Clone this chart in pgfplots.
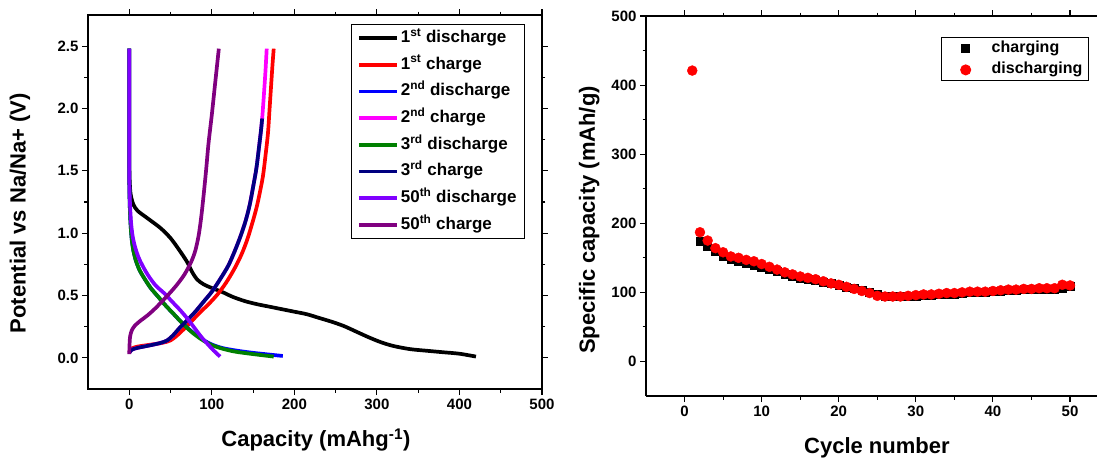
\documentclass[border=0pt]{standalone}
\usepackage{fontspec}
\setmainfont{Liberation Sans}
\usepackage{pgfplots}
\pgfplotsset{compat=1.18}
\definecolor{cBlue}{RGB}{0,0,255}
\definecolor{cMag}{RGB}{255,0,255}
\definecolor{cGreen}{RGB}{0,128,0}
\definecolor{cNavy}{RGB}{0,0,128}
\definecolor{cViolet}{RGB}{128,0,255}
\definecolor{cPurple}{RGB}{128,0,128}
\pgfplotsset{
 common/.style={
  scale only axis,
  axis line style={line width=1.2pt},
  tick style={line width=1.1pt, black},
  tick align=outside,
  major tick length=6pt,
  minor tick length=3.5pt,
  /pgf/number format/assume math mode=true,
  tick label style={font=\fontsize{15}{15}\selectfont\bfseries},
 },
 curve/.style={no marks, line width=3.7pt, smooth, tension=0.5, line join=round},
}
\begin{document}
\begin{tikzpicture}[x=1pt,y=1pt]
\path[use as bounding box] (0,0) rectangle (1097,459);
% ---------------- left panel
\begin{axis}[common,
  at={(88pt,70pt)}, anchor=south west, width=454pt, height=374pt,
  xmin=-50, xmax=500, ymin=-0.25, ymax=2.75,
  xtick={0,100,...,500}, minor x tick num=1,
  ytick={0,0.5,...,2.5}, minor y tick num=1,
  yticklabel style={/pgf/number format/.cd,fixed,fixed zerofill,precision=1},
  xlabel={Capacity (mAhg\textsuperscript{-1})},
  ylabel={Potential vs Na/Na+ (V)},
  xlabel style={at={(axis description cs:0.502,-0.136)},anchor=center,font=\fontsize{22}{22}\selectfont\bfseries},
  ylabel style={at={(axis description cs:-0.15,0.47)},anchor=center,font=\fontsize{22}{22}\selectfont\bfseries},
  legend style={at={(axis description cs:0.9626,0.976)}, anchor=north east,
    draw=black, line width=1pt, font=\fontsize{17}{17}\selectfont\bfseries,
    nodes={inner sep=2pt, text height=13pt, text depth=4pt}, row sep=5.7pt,
    inner xsep=6pt, inner ysep=3pt},
  legend cell align=left,
  legend image code/.code={\draw[#1] (0pt,0pt) -- (38pt,0pt);},
]
\addplot[curve, black] coordinates {(0,2.48)(0,1.6)(0.8,1.38)(2,1.30)(5,1.23)(10,1.18)(22,1.12)(38,1.04)(50,0.96)(60,0.87)(70,0.77)(76,0.69)(82,0.63)(90,0.59)(100,0.56)(112,0.53)(125,0.49)(140,0.455)(155,0.43)(170,0.41)(185,0.39)(200,0.37)(215,0.35)(230,0.32)(245,0.29)(260,0.255)(275,0.21)(290,0.165)(305,0.125)(320,0.095)(340,0.07)(360,0.057)(380,0.045)(400,0.033)(420,0.01)};
\addlegendentry{1\textsuperscript{st} discharge}
\addplot[curve, red] coordinates {(0,0.05)(3,0.075)(10,0.09)(25,0.105)(40,0.12)(50,0.14)(58,0.18)(66,0.23)(75,0.29)(85,0.36)(96,0.43)(107,0.51)(117,0.6)(127,0.71)(136,0.83)(143,0.95)(149,1.08)(154,1.2)(158,1.32)(162,1.46)(165,1.62)(168,1.8)(170,2.0)(172,2.2)(173.5,2.35)(175,2.48)};
\addlegendentry{1\textsuperscript{st} charge}
\addplot[curve, cBlue] coordinates {(0,2.48)(0,1.5)(0.5,1.25)(1.5,1.08)(3,0.95)(5,0.86)(8,0.78)(12,0.71)(18,0.64)(26,0.56)(35,0.49)(44,0.42)(54,0.35)(64,0.28)(75,0.215)(87,0.155)(99,0.11)(112,0.08)(128,0.06)(150,0.04)(186,0.015)};
\addlegendentry{2\textsuperscript{nd} discharge}
\addplot[curve, cMag] coordinates {(0,0.04)(3,0.065)(10,0.08)(25,0.1)(38,0.12)(46,0.14)(53,0.18)(61,0.24)(70,0.3)(80,0.37)(90,0.45)(100,0.53)(110,0.63)(120,0.74)(128,0.86)(135,0.98)(141,1.1)(146,1.23)(150,1.37)(154,1.52)(157,1.68)(159.5,1.82)(161,1.92)(163,2.1)(165,2.3)(166.5,2.48)};
\addlegendentry{2\textsuperscript{nd} charge}
\addplot[curve, cGreen] coordinates {(0,2.48)(0,1.5)(0.5,1.25)(1.5,1.08)(3,0.95)(5,0.86)(8,0.78)(12,0.71)(18,0.64)(26,0.56)(35,0.49)(44,0.42)(54,0.35)(64,0.28)(75,0.21)(87,0.15)(99,0.105)(112,0.075)(128,0.05)(150,0.03)(175,0.01)};
\addlegendentry{3\textsuperscript{rd} discharge}
\addplot[curve, cNavy] coordinates {(0,0.04)(3,0.065)(10,0.08)(25,0.1)(38,0.12)(46,0.14)(53,0.18)(61,0.24)(70,0.3)(80,0.37)(90,0.45)(100,0.53)(110,0.63)(120,0.74)(128,0.86)(135,0.98)(141,1.1)(146,1.23)(150,1.37)(154,1.52)(157,1.68)(159.5,1.82)(161,1.92)};
\addlegendentry{3\textsuperscript{rd} charge}
\addplot[curve, cViolet] coordinates {(0,2.48)(0,1.5)(0.6,1.28)(2,1.1)(4,0.98)(7,0.89)(11,0.81)(16,0.74)(23,0.66)(32,0.58)(42,0.52)(52,0.45)(62,0.38)(71,0.31)(79,0.24)(87,0.17)(95,0.11)(102,0.06)(110,0.01)};
\addlegendentry{50\textsuperscript{th} discharge}
\addplot[curve, cPurple] coordinates {(0,0.03)(0.3,0.1)(1,0.17)(3,0.22)(7,0.26)(14,0.3)(22,0.34)(32,0.4)(45,0.49)(57,0.58)(67,0.67)(75,0.77)(80,0.86)(84,0.98)(87,1.12)(90,1.3)(93,1.5)(96,1.72)(100,1.95)(104,2.2)(108.5,2.48)};
\addlegendentry{50\textsuperscript{th} charge}
\end{axis}
% ---------------- right panel
\begin{axis}[common,
  at={(646pt,63pt)}, anchor=south west, width=451pt, height=380pt,
  xmin=-5, xmax=53.5, ymin=-50, ymax=500,
  axis y line*=left, axis x line=box,
  xtick={0,10,...,50}, minor x tick num=1,
  ytick={0,100,...,500}, minor y tick num=1,
  xlabel={Cycle number},
  ylabel={Specific capacity (mAh/g)},
  xlabel style={at={(axis description cs:0.512,-0.137)},anchor=center,font=\fontsize{22}{22}\selectfont\bfseries},
  ylabel style={at={(axis description cs:-0.126,0.463)},anchor=center,font=\fontsize{22}{22}\selectfont\bfseries},
  legend style={at={(axis description cs:0.982,0.945)}, anchor=north east,
    draw=black, line width=1pt, font=\fontsize{16}{16}\selectfont\bfseries,
    nodes={inner sep=2pt, text height=12pt, text depth=4pt}, row sep=1.5pt,
    inner xsep=4pt, inner ysep=1pt},
  legend cell align=left,
  legend image code/.code={\path[draw=none,fill=none] (0pt,0pt) -- (44pt,0pt); \draw[mark repeat=2,mark phase=2,#1] plot coordinates {(0pt,0pt)(20pt,0pt)(40pt,0pt)};},
]
\addplot[only marks, mark=square*, mark size=4pt, black] coordinates {
(2,174)(3,167)(4,160)(5,153)(6,148)(7,145)(8,142)(9,140)(10,137)(11,134)(12,130)(13,127)(14,124)(15,121)(16,119)(17,117)(18,115)(19,113)(20,111)(21,108)(22,106)(23,103)(24,100)(25,97)(26,95)(27,94)(28,94)(29,94)(30,95)(31,96)(32,96)(33,97)(34,98)(35,98)(36,99)(37,100)(38,100)(39,100)(40,101)(41,102)(42,103)(43,103)(44,104)(45,104)(46,105)(47,105)(48,105)(49,106)(50,109)};
\addlegendentry{charging}
\addplot[only marks, mark=*, mark size=5pt, red] coordinates {
(1,421)(2,187)(3,175)(4,164)(5,158)(6,152)(7,150)(8,147)(9,145)(10,141)(11,137)(12,133)(13,129)(14,126)(15,123)(16,121)(17,119)(18,116)(19,113)(20,111)(21,108)(22,105)(23,102)(24,99)(25,95)(26,94)(27,94)(28,94)(29,95)(30,96)(31,97)(32,97)(33,98)(34,99)(35,99)(36,100)(37,101)(38,101)(39,101)(40,102)(41,103)(42,104)(43,104)(44,105)(45,105)(46,106)(47,106)(48,106)(49,111)(50,110)};
\addlegendentry{discharging}
\end{axis}
\end{tikzpicture}
\end{document}
